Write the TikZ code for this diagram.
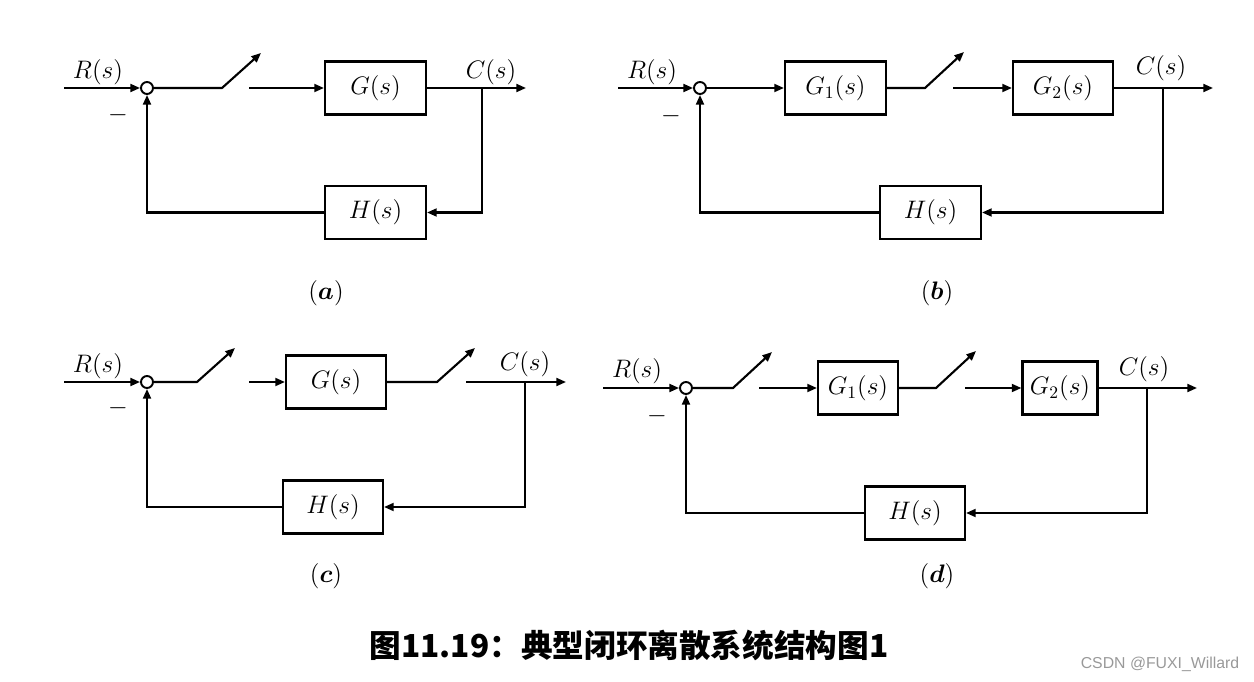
\documentclass[tikz,border=0pt]{standalone}
\usepackage{amsmath}
\usepackage{fontspec}
\usepackage{tikz}
\usetikzlibrary{arrows.meta}
\newfontfamily\cjk{Noto Sans CJK SC}
\newfontfamily\wmfont{Liberation Sans}

\tikzset{
  blk/.style={draw, line width=1.2pt, minimum height=1.06cm, inner sep=0pt, font=\Large},
  sumpt/.style={draw, circle, line width=1.1pt, minimum size=0.24cm, inner sep=0pt, fill=white},
  wire/.style={line width=1.2pt},
  arr/.style={wire, -{Triangle[length=5.5pt,width=4.5pt]}},
  lbl/.style={inner sep=0pt, font=\Large}
}

\begin{document}
\begin{tikzpicture}[x=0.02cm,y=-0.02cm]
\useasboundingbox (0,0) rectangle (1254,682);

% (a)
\coordinate (inA) at (64,88);
\node[sumpt] (sumA) at (147,88) {};
\coordinate (swA1) at (222,88);
\coordinate (swA2) at (261,53);
\coordinate (gInA) at (249,88);
\node[blk, minimum width=2.02cm] (gA) at (375.5,88) {$G(s)$};
\coordinate (brA) at (482,88);
\coordinate (outA) at (526,88);
\node[blk, minimum width=2.02cm] (hA) at (375.5,212.5) {$H(s)$};
\node[lbl] (rA) at (98,72) {$R(s)$};
\node[lbl] (mA) at (118,115) {$-$};
\node[lbl] (cA) at (491,72) {$C(s)$};
\node[lbl] (capA) at (326,293) {$(\boldsymbol{a})$};
\draw[arr] (inA) -- (sumA);
\draw[arr] (sumA) -- (swA1) -- (swA2);
\draw[arr] (gInA) -- (gA);
\draw[arr] (gA) -- (outA);
\draw[arr] (brA) |- (hA);
\draw[arr] (hA) -| (sumA);

% (b)
\coordinate (inB) at (618,88);
\node[sumpt] (sumB) at (700,88) {};
\node[blk, minimum width=2.02cm] (g1B) at (835.5,88) {$G_1(s)$};
\coordinate (swB1) at (925,88);
\coordinate (swB2) at (964,52);
\coordinate (gInB) at (953,88);
\node[blk, minimum width=2cm] (g2B) at (1063,88) {$G_2(s)$};
\coordinate (brB) at (1163,88);
\coordinate (outB) at (1213,88);
\node[blk, minimum width=2.02cm] (hB) at (930.5,212.5) {$H(s)$};
\node[lbl] (rB) at (652,72) {$R(s)$};
\node[lbl] (mB) at (671,116) {$-$};
\node[lbl] (cB) at (1161,68) {$C(s)$};
\node[lbl] (capB) at (937,293) {$(\boldsymbol{b})$};
\draw[arr] (inB) -- (sumB);
\draw[arr] (sumB) -- (g1B);
\draw[arr] (g1B) -- (swB1) -- (swB2);
\draw[arr] (gInB) -- (g2B);
\draw[arr] (g2B) -- (outB);
\draw[arr] (brB) |- (hB);
\draw[arr] (hB) -| (sumB);

% (c)
\coordinate (inC) at (64,382);
\node[sumpt] (sumC) at (147,382) {};
\coordinate (swC1) at (197,382);
\coordinate (swC2) at (235,348);
\coordinate (gInC) at (249,382);
\node[blk, minimum width=2cm] (gC) at (336,382) {$G(s)$};
\coordinate (swC3) at (437,382);
\coordinate (swC4) at (475,348);
\coordinate (oInC) at (466,382);
\coordinate (brC) at (525,382);
\coordinate (outC) at (566,382);
\node[blk, minimum width=2cm] (hC) at (333,507) {$H(s)$};
\node[lbl] (rC) at (98,366) {$R(s)$};
\node[lbl] (mC) at (118,408) {$-$};
\node[lbl] (cC) at (525,364) {$C(s)$};
\node[lbl] (capC) at (326,576) {$(\boldsymbol{c})$};
\draw[arr] (inC) -- (sumC);
\draw[arr] (sumC) -- (swC1) -- (swC2);
\draw[arr] (gInC) -- (gC);
\draw[arr] (gC) -- (swC3) -- (swC4);
\draw[arr] (oInC) -- (outC);
\draw[arr] (brC) |- (hC);
\draw[arr] (hC) -| (sumC);

% (d)
\coordinate (inD) at (603,388);
\node[sumpt] (sumD) at (686,388) {};
\coordinate (swD1) at (733,388);
\coordinate (swD2) at (772,352);
\coordinate (gInD1) at (759,388);
\node[blk, minimum width=1.6cm] (g1D) at (858,388) {$G_1(s)$};
\coordinate (swD3) at (936,388);
\coordinate (swD4) at (976,351);
\coordinate (gInD2) at (965,388);
\node[blk, minimum width=1.5cm] (g2D) at (1060,388) {$G_2(s)$};
\coordinate (brD) at (1147,388);
\coordinate (outD) at (1197,388);
\node[blk, minimum width=2cm] (hD) at (915,513) {$H(s)$};
\node[lbl] (rD) at (637,371) {$R(s)$};
\node[lbl] (mD) at (657,416) {$-$};
\node[lbl] (cD) at (1144,369) {$C(s)$};
\node[lbl] (capD) at (937,576) {$(\boldsymbol{d})$};
\draw[arr] (inD) -- (sumD);
\draw[arr] (sumD) -- (swD1) -- (swD2);
\draw[arr] (gInD1) -- (g1D);
\draw[arr] (g1D) -- (swD3) -- (swD4);
\draw[arr] (gInD2) -- (g2D);
\draw[arr] (g2D) -- (outD);
\draw[arr] (brD) |- (hD);
\draw[arr] (hD) -| (sumD);

% caption
\node[inner sep=0pt, font=\cjk\bfseries\fontsize{18}{20}\selectfont] (cap) at (629,645) {图11.19：典型闭环离散系统结构图1};
\node[inner sep=0pt, text=black!40, font=\wmfont\fontsize{9}{11}\selectfont] (wm) at (1160,664) {CSDN @FUXI\_Willard};
\end{tikzpicture}
\end{document}
